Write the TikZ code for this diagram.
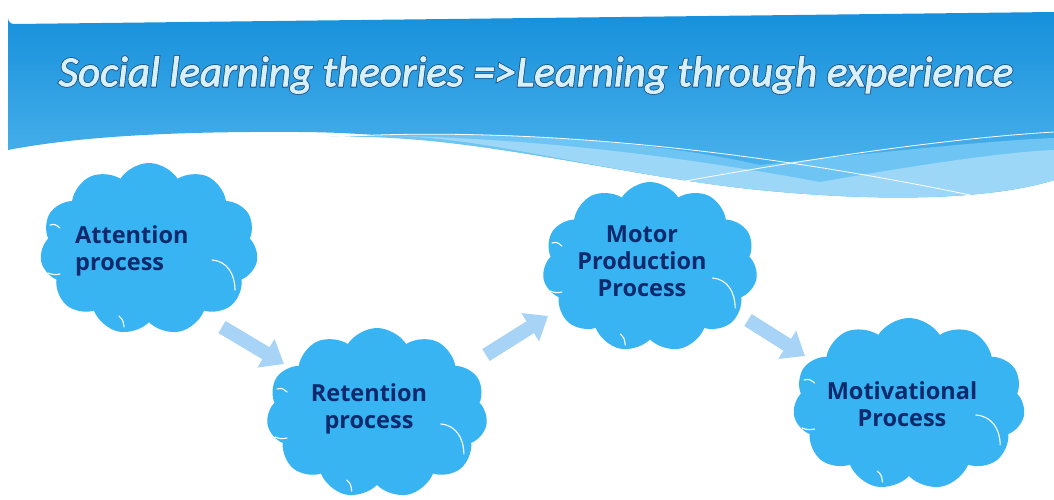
\documentclass[tikz,border=0pt]{standalone}
\usepackage{fontspec}
\usetikzlibrary{shapes.symbols,arrows.meta}
\newfontfamily\titlefont{Carlito}
\newfontfamily\cloudfont{Open Sans}
\definecolor{bannertop}{HTML}{1690DB}
\definecolor{bannerbot}{HTML}{55B8EF}
\definecolor{bandmid}{HTML}{6EC5F3}
\definecolor{bandlight}{HTML}{9DD7F8}
\definecolor{cloudblue}{HTML}{38B4F3}
\definecolor{arrowblue}{HTML}{A6D3F6}
\definecolor{cloudtext}{HTML}{0E2A6C}
\definecolor{titlefill}{HTML}{D8F0FB}
\tikzset{
  cloudbox/.style={cloud, cloud puffs=11, cloud puff arc=115, aspect=1.25,
    fill=cloudblue, draw=none, inner sep=0pt},
  cloudlabel/.style={font=\cloudfont\bfseries\fontsize{23.5}{27}\selectfont,
    text=cloudtext, inner sep=0pt},
  flowarrow/.style={draw=arrowblue, line width=14pt,
    -{Triangle[width=32pt,length=21pt]}},
  wline/.style={draw=white, line width=0.8pt},
  innerarc/.style={draw=white, line width=1.1pt, line cap=round},
}
\newcommand{\outlinedtext}[1]{%
  \rlap{\special{pdf:literal direct q 2 Tr 2.6 w 0.12 0.33 0.52 RG}#1\special{pdf:literal direct Q}}%
  \special{pdf:literal direct q 2 Tr 0.9 w 0.847 0.941 0.984 RG}#1\special{pdf:literal direct Q}}
\newcommand{\cloudarcs}[2]{%
  \begin{scope}[shift={(#1)}, xscale=#2]
    \draw[innerarc] (63,11) .. controls (78,12) and (86,25) .. (86,41);
    \draw[innerarc] (-99,-24) .. controls (-94,-25) .. (-89,-21);
    \draw[innerarc] (-101,24) .. controls (-95,26) .. (-89,25);
    \draw[innerarc] (-30,67) .. controls (-26,71) .. (-25,78);
    \draw[innerarc] (86,-62) .. controls (89,-60) .. (91,-54);
  \end{scope}}
\begin{document}
\begin{tikzpicture}[x=1pt,y=-1pt]
\useasboundingbox (0,0) rectangle (1054,499);
\fill[white] (0,0) rectangle (1054,499);
% banner
\shade[top color=bannertop, bottom color=bannerbot]
  (8,150) -- (8,18) arc[start angle=180,end angle=90,radius=6] -- (1054,12) -- (1054,180)
  .. controls (990,200) and (880,202) .. (760,190)
  .. controls (620,176) and (470,133) .. (300,132)
  .. controls (160,131) and (70,138) .. (8,150) -- cycle;
% medium band
\fill[bandmid]
  (330,137) .. controls (480,128) and (650,140) .. (760,165)
  .. controls (900,150) and (1000,140) .. (1054,138) -- (1054,180)
  .. controls (990,200) and (880,202) .. (760,190)
  .. controls (620,176) and (470,133) .. (330,137) -- cycle;
% light band
\fill[bandlight]
  (400,136) .. controls (560,140) and (700,160) .. (820,182)
  .. controls (900,168) and (1000,152) .. (1054,150) -- (1054,180)
  .. controls (990,200) and (880,202) .. (760,190)
  .. controls (620,176) and (500,140) .. (400,136) -- cycle;
% thin white lines
\draw[wline] (333,137) .. controls (500,127) and (720,143) .. (975,196);
\draw[wline] (680,182) .. controls (800,160) and (950,138) .. (1054,132);
% title
\node (title) [font=\titlefont\itshape\fontsize{43}{46}\selectfont, text=titlefill, inner sep=0pt]
  at (536,75) {\outlinedtext{Social learning theories =>Learning through experience}};
% clouds
\node (c1) [cloudbox, minimum width=218pt, minimum height=172pt] at (149,249) {};
\node (c2) [cloudbox, minimum width=221pt, minimum height=170pt] at (377,413) {};
\node (c3) [cloudbox, minimum width=215pt, minimum height=170pt] at (650,267) {};
\node (c4) [cloudbox, minimum width=232pt, minimum height=172pt] at (909,404) {};
\cloudarcs{149,249}{1}
\cloudarcs{377,413}{1.01}
\cloudarcs{650,267}{0.99}
\cloudarcs{909,404}{1.06}
% labels
\node (t1) [cloudlabel, anchor=west, align=left] at (75,251) {Attention\\process};
\node (t2) [cloudlabel, align=center] at (369,409) {Retention\\process};
\node (t3) [cloudlabel, align=center] at (642,261) {Motor\\Production\\Process};
\node (t4) [cloudlabel, align=center] at (902,404) {Motivational\\Process};
% arrows
\coordinate (a1s) at (222,327);
\coordinate (a1e) at (284,364);
\coordinate (a2s) at (486,355);
\coordinate (a2e) at (548,316);
\coordinate (a3s) at (748,320);
\coordinate (a3e) at (805,356);
\draw[flowarrow] (a1s) -- (a1e);
\draw[flowarrow] (a2s) -- (a2e);
\draw[flowarrow] (a3s) -- (a3e);
\end{tikzpicture}
\end{document}
